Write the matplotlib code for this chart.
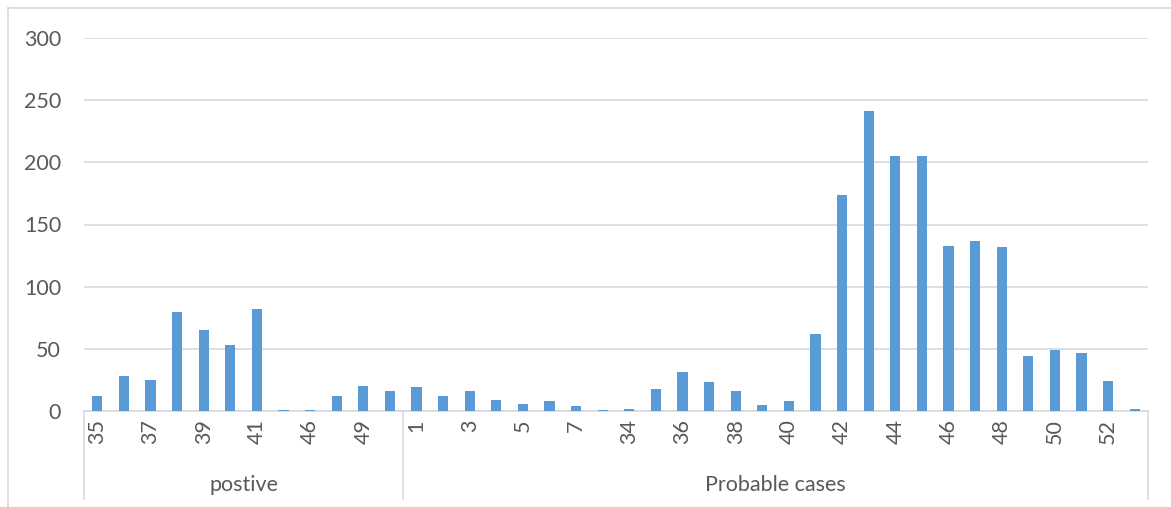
import matplotlib
matplotlib.use('Agg')
import matplotlib.pyplot as plt
from matplotlib.lines import Line2D
import matplotlib.transforms as mtransforms

plt.rcParams['font.family'] = ['Lato', 'DejaVu Sans']

# week numbers per group (unlabeled ones are guesses, only every other label shows)
pos_weeks = ['35', '36', '37', '38', '39', '40', '41', '45', '46', '48', '49', '50']
pos_vals = [12, 28, 25, 80, 65, 53, 82, 0.5, 0.5, 12, 20, 16]

prob_weeks = ['1', '2', '3', '4', '5', '6', '7', '8',
              '34', '35', '36', '37', '38', '39', '40', '41', '42', '43',
              '44', '45', '46', '47', '48', '49', '50', '51', '52', '53']
prob_vals = [19, 12, 16, 9, 6, 8, 4, 0.5,
             2, 18, 31, 23, 16, 5, 8, 62, 174, 241,
             205, 205, 133, 137, 132, 44, 49, 47, 24, 2]

groups = ['postive', 'Probable cases']

labels = pos_weeks + prob_weeks
values = pos_vals + prob_vals
x = list(range(len(labels)))

W, H = 1171, 507
fig = plt.figure(figsize=(W / 100, H / 100), dpi=100)
ax = fig.add_axes([84 / W, 1 - 411 / H, (1148 - 84) / W, (411 - 38) / H])

grid_c = '#D9D9D9'
text_c = '#595959'
fs = 15.5

ax.bar(x, values, width=0.38, color='#5B9BD5', zorder=3)
ax.set_xlim(-0.5, len(labels) - 0.5)
ax.set_ylim(0, 300)
ax.set_yticks(range(0, 301, 50))
ax.yaxis.grid(True, color=grid_c, lw=1.2, zorder=0)
for s in ['left', 'right', 'top']:
    ax.spines[s].set_visible(False)
ax.spines['bottom'].set_color(grid_c)
ax.spines['bottom'].set_linewidth(1.2)
ax.tick_params(axis='y', length=0, pad=16.5, labelsize=fs, labelcolor=text_c)

ax.set_xticks(x[::2])
ax.set_xticklabels(labels[::2], rotation=90, fontsize=fs, color=text_c)
ax.tick_params(axis='x', length=0, pad=6)

# group separators and labels under the axis
trans = mtransforms.blended_transform_factory(ax.transData, ax.transAxes)
bounds = [-0.5, len(pos_weeks) - 0.5, len(labels) - 0.5]
for b in bounds:
    ax.add_line(Line2D([b, b], [0, -88 / 373], transform=trans, color=grid_c,
                       lw=1.2, clip_on=False))
for i, g in enumerate(groups):
    ax.text((bounds[i] + bounds[i + 1]) / 2, -74 / 373, g, transform=trans,
            ha='center', va='center', fontsize=fs, color=text_c)

# chart area border (partly cropped in the original)
fig.add_artist(Line2D([8 / W, 8 / W], [0, 1 - 8 / H], transform=fig.transFigure,
                      color=grid_c, lw=1.2))
fig.add_artist(Line2D([8 / W, 1], [1 - 8 / H, 1 - 8 / H], transform=fig.transFigure,
                      color=grid_c, lw=1.2))

fig.savefig('out.png', dpi=100)
